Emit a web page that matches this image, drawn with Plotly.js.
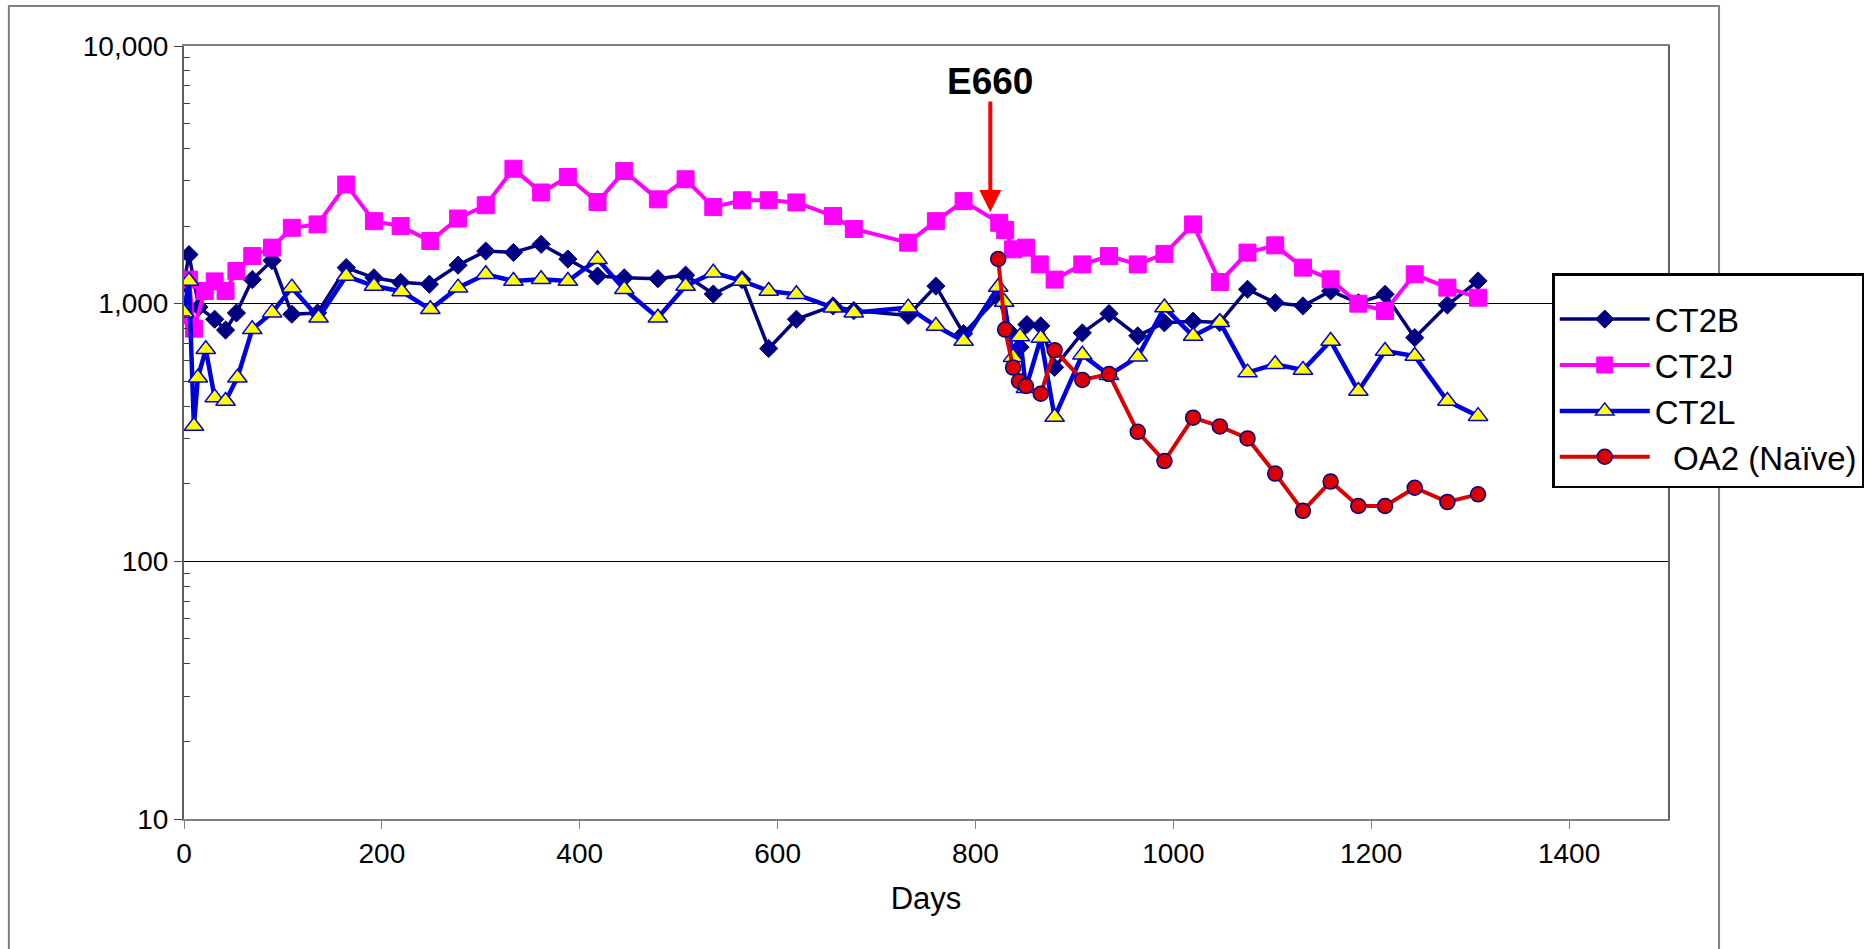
<!DOCTYPE html>
<html>
<head>
<meta charset="utf-8">
<script src="https://cdn.plot.ly/plotly-3.0.1.min.js"></script>
<style>
  html, body { margin: 0; padding: 0; background: #ffffff; }
  #chart { width: 1871px; height: 949px; }
</style>
</head>
<body>
<div id="chart"></div>
<script>
// ---- data ----
const seriesNames = ["CT2B", "CT2J", "CT2L", "  OA2 (Naïve)"];

const ct2bDays = [0, 5, 15, 31, 42, 53, 69, 89, 109, 135, 164, 192, 219, 248, 277, 305, 333, 361, 388, 418, 445, 479, 507, 535, 564, 591, 619, 656, 677, 732, 760, 788, 823, 835, 845, 852, 866, 880, 908, 935, 964, 991, 1020, 1047, 1075, 1103, 1131, 1159, 1187, 1214, 1244, 1277, 1308];
const ct2bVals = [1200, 1550, 970, 870, 790, 920, 1240, 1470, 910, 920, 1380, 1260, 1210, 1190, 1410, 1600, 1580, 1700, 1490, 1280, 1260, 1250, 1290, 1090, 1240, 670, 870, 980, 940, 900, 1170, 765, 1060, 775, 678, 830, 820, 566, 770, 915, 750, 843, 855, 845, 1137, 1008, 980, 1120, 1008, 1087, 738, 988, 1225];

const ct2jDays = [0, 5, 10, 21, 31, 42, 53, 69, 89, 109, 135, 164, 192, 219, 249, 277, 305, 333, 361, 388, 418, 445, 479, 507, 535, 564, 591, 619, 656, 677, 732, 760, 788, 824, 830, 838, 851, 865, 880, 908, 935, 964, 991, 1020, 1047, 1075, 1103, 1131, 1159, 1187, 1214, 1244, 1277, 1308];
const ct2jVals = [900, 1240, 800, 1120, 1220, 1120, 1340, 1530, 1650, 1970, 2030, 2900, 2090, 2000, 1750, 2140, 2410, 3340, 2700, 3100, 2480, 3270, 2540, 3040, 2370, 2520, 2520, 2470, 2190, 1950, 1725, 2090, 2500, 2060, 1930, 1625, 1650, 1420, 1240, 1420, 1530, 1420, 1560, 2030, 1214, 1578, 1684, 1380, 1243, 1000, 937, 1300, 1154, 1055];

const ct2lDays = [0, 5, 10, 14, 22, 31, 42, 54, 69, 89, 109, 136, 164, 192, 220, 249, 277, 305, 333, 361, 388, 418, 445, 479, 507, 535, 564, 591, 619, 656, 677, 732, 760, 788, 823, 829, 838, 845, 851, 866, 880, 908, 935, 964, 991, 1020, 1047, 1075, 1103, 1131, 1159, 1187, 1214, 1244, 1277, 1308];
const ct2lVals = [923, 1225, 335, 516, 665, 432, 419, 516, 795, 923, 1154, 882, 1280, 1171, 1115, 951, 1154, 1300, 1225, 1243, 1225, 1486, 1137, 882, 1171, 1319, 1225, 1120, 1087, 965, 923, 965, 819, 716, 1160, 1015, 620, 745, 470, 735, 363, 633, 528, 622, 966, 749, 847, 540, 582, 553, 716, 458, 655, 626, 419, 366];

const oa2Days = [823, 830, 838, 844, 851, 866, 880, 908, 935, 964, 991, 1020, 1047, 1075, 1103, 1131, 1159, 1187, 1214, 1244, 1277, 1308];
const oa2Vals = [1490, 793, 565, 500, 479, 447, 660, 506, 533, 318, 245, 361, 334, 300, 219, 157, 204, 164, 164, 193, 170, 182];

const yTickVals = [10, 100, 1000, 10000];
const yTickText = ["10", "100", "1,000", "10,000"];
const yMinorVals = [20, 30, 40, 50, 60, 70, 80, 90, 200, 300, 400, 500, 600, 700, 800, 900, 2000, 3000, 4000, 5000, 6000, 7000, 8000, 9000];
const xTickVals = [0, 200, 400, 600, 800, 1000, 1200, 1400];

const eventLabel = "E660";
const eventDay = 815;
const eventArrowTip = 2270;
const eventLabelLevel = 7250;

// ---- chart ----
const FONT = "Liberation Sans, Arial, sans-serif";

const traces = [
  {
    x: ct2bDays, y: ct2bVals, name: seriesNames[0], type: "scatter", mode: "lines+markers",
    line: { color: "#000080", width: 3.5 },
    marker: { symbol: "diamond", size: 14, color: "#000080", line: { color: "#000080", width: 1 } },
    legendgroup: "a"
  },
  {
    x: ct2jDays, y: ct2jVals, name: seriesNames[1], type: "scatter", mode: "lines+markers",
    line: { color: "#FF00FF", width: 4 },
    marker: { symbol: "square", size: 17, color: "#FF00FF", line: { color: "#FF00FF", width: 1 } },
    legendgroup: "b"
  },
  {
    x: ct2lDays, y: ct2lVals, name: seriesNames[2], type: "scatter", mode: "lines+markers",
    line: { color: "#0000DD", width: 4.5 },
    marker: { symbol: "triangle-up", size: 17, color: "#FFFF00", line: { color: "#0000DD", width: 1.5 } },
    legendgroup: "c"
  },
  {
    x: oa2Days, y: oa2Vals, name: seriesNames[3], type: "scatter", mode: "lines+markers",
    line: { color: "#DD0000", width: 4 },
    marker: { symbol: "circle", size: 15, color: "#DD0000", line: { color: "#000080", width: 1.5 } },
    legendgroup: "d"
  }
];

const layout = {
  width: 1871, height: 949,
  margin: { l: 184, r: 203, t: 46, b: 130, pad: 0, autoexpand: false },
  paper_bgcolor: "#ffffff", plot_bgcolor: "#ffffff",
  font: { family: FONT, size: 28, color: "#000000" },
  showlegend: true,
  legend: {
    x: 0.922, y: 0.7063, xanchor: "left", yanchor: "top",
    bgcolor: "#ffffff", bordercolor: "#000000", borderwidth: 2.5,
    font: { family: FONT, size: 33, color: "#000000" },
    title: { text: " ", font: { family: FONT, size: 12 } },
    tracegroupgap: 11, itemwidth: 90, traceorder: "normal"
  },
  xaxis: {
    range: [0, 1500], tickvals: xTickVals, ticks: "outside", ticklen: 8, tickcolor: "#808080",
    showgrid: false, zeroline: false, showline: true, linecolor: "#808080", linewidth: 2, mirror: true,
    tickfont: { family: FONT, size: 28 },
    title: { text: "Days", font: { family: FONT, size: 31 }, standoff: 20 }
  },
  yaxis: {
    type: "log", range: [1, 4], tickvals: yTickVals, ticktext: yTickText,
    ticks: "outside", ticklen: 8, tickcolor: "#404040",
    showgrid: true, gridcolor: "#000000", gridwidth: 1,
    zeroline: false, showline: true, linecolor: "#606060", linewidth: 2, mirror: true,
    tickfont: { family: FONT, size: 28 },
    minor: { tickvals: yMinorVals, ticks: "inside", ticklen: 6, tickcolor: "#404040", showgrid: false }
  },
  shapes: [
    { type: "rect", xref: "paper", yref: "paper", x0: -0.118, x1: 1.0344, y0: -0.2, y1: 1.0517,
      line: { color: "#808080", width: 2 }, fillcolor: "rgba(0,0,0,0)", layer: "below" }
  ],
  annotations: [
    { x: eventDay, y: Math.log10(eventArrowTip), xref: "x", yref: "y", text: "",
      showarrow: true, ax: 0, ay: -112, axref: "pixel", ayref: "pixel",
      arrowcolor: "#FF0000", arrowwidth: 4, arrowhead: 2, arrowsize: 1.1, standoff: 0 },
    { x: eventDay, y: Math.log10(eventLabelLevel), xref: "x", yref: "y", text: "<b>" + eventLabel + "</b>",
      showarrow: false, xanchor: "center", yanchor: "middle",
      font: { family: FONT, size: 37, color: "#000000" } }
  ]
};

Plotly.newPlot("chart", traces, layout, { staticPlot: true, displayModeBar: false });
</script>
</body>
</html>
